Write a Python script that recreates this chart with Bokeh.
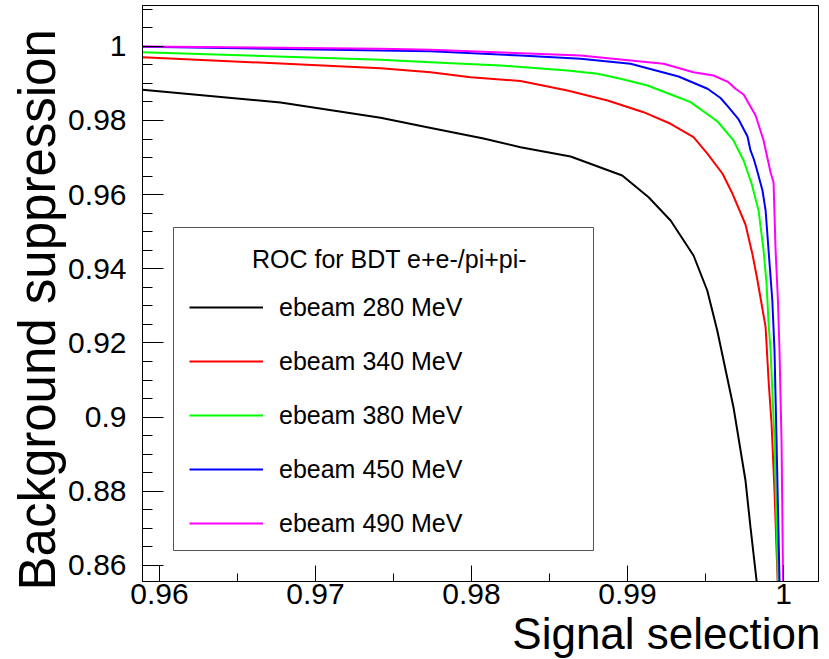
from bokeh.plotting import figure
from bokeh.models import Range1d, FixedTicker, Legend, LegendItem, Label, BoxAnnotation, Title
from bokeh.embed import file_html
from bokeh.resources import INLINE

# ---------------- data ----------------
series_labels = ["ebeam 280 MeV", "ebeam 340 MeV", "ebeam 380 MeV",
                 "ebeam 450 MeV", "ebeam 490 MeV"]
series_colors = ["#000000", "#ff0000", "#00ff00", "#0000ff", "#ff00ff"]

sig_280 = [0.95891, 0.96776, 0.97417, 0.97716, 0.98077, 0.98314, 0.98635, 0.98966,
           0.99135, 0.99276, 0.99423, 0.99511, 0.99575, 0.99679, 0.99756, 0.99788,
           0.99827, 0.99843]
bkg_280 = [0.98828, 0.98485, 0.98073, 0.97819, 0.97515, 0.97280, 0.97029, 0.96517,
           0.95931, 0.95303, 0.94359, 0.93415, 0.92337, 0.90268, 0.88291, 0.87032,
           0.85594, 0.85000]

sig_340 = [0.95891, 0.97417, 0.97737, 0.97994, 0.98314, 0.98615, 0.98872, 0.99103,
           0.99276, 0.99423, 0.99513, 0.99609, 0.99673, 0.99756, 0.99801, 0.99833,
           0.99885, 0.99904, 0.99923, 0.99942, 0.99962, 0.99967]
bkg_340 = [0.99707, 0.99410, 0.99303, 0.99168, 0.99065, 0.98809, 0.98539, 0.98224,
           0.97911, 0.97550, 0.97102, 0.96563, 0.96023, 0.95195, 0.94386, 0.93685,
           0.92426, 0.90988, 0.89829, 0.88022, 0.85594, 0.85000]

sig_380 = [0.95891, 0.97417, 0.97737, 0.98186, 0.98615, 0.98808, 0.98955, 0.99128,
           0.99295, 0.99404, 0.99577, 0.99679, 0.99744, 0.99795, 0.99840, 0.99872,
           0.99891, 0.99904, 0.99917, 0.99942, 0.99964, 0.99968]
bkg_380 = [0.99842, 0.99637, 0.99572, 0.99483, 0.99348, 0.99259, 0.99125, 0.98944,
           0.98674, 0.98494, 0.97973, 0.97461, 0.96921, 0.96301, 0.95573, 0.94494,
           0.93604, 0.92525, 0.91797, 0.89370, 0.85594, 0.85000]

sig_450 = [0.95891, 0.97417, 0.97737, 0.98314, 0.98699, 0.99019, 0.99327, 0.99513,
           0.99596, 0.99647, 0.99712, 0.99769, 0.99788, 0.99808, 0.99827, 0.99865,
           0.99885, 0.99904, 0.99928, 0.99942, 0.99955, 0.99974, 0.99978]
bkg_450 = [0.99990, 0.99888, 0.99869, 0.99753, 0.99664, 0.99529, 0.99187, 0.98855,
           0.98607, 0.98359, 0.98027, 0.97569, 0.97191, 0.96975, 0.96706, 0.96112,
           0.95573, 0.94494, 0.93146, 0.91797, 0.89370, 0.85594, 0.85000]

sig_490 = [0.95891, 0.97417, 0.97737, 0.98699, 0.98891, 0.99231, 0.99423, 0.99551,
           0.99647, 0.99692, 0.99744, 0.99821, 0.99872, 0.99917, 0.99936, 0.99949,
           0.99964, 0.99974, 0.99987, 0.99997, 1.00000]
bkg_490 = [0.99998, 0.99934, 0.99907, 0.99753, 0.99672, 0.99529, 0.99303, 0.99214,
           0.99033, 0.98855, 0.98701, 0.98135, 0.97461, 0.96598, 0.96328, 0.94494,
           0.93146, 0.91797, 0.89370, 0.85594, 0.85000]

x_ticks = [0.96, 0.97, 0.98, 0.99, 1.0]
x_tick_labels = ["0.96", "0.97", "0.98", "0.99", "1"]
x_minor_ticks = [0.955, 0.965, 0.975, 0.985, 0.995, 1.005]
y_ticks = [0.86, 0.88, 0.90, 0.92, 0.94, 0.96, 0.98, 1.0]
y_tick_labels = ["0.86", "0.88", "0.9", "0.92", "0.94", "0.96", "0.98", "1"]
y_minor_ticks = [0.855, 0.860, 0.865, 0.870, 0.875, 0.880, 0.885, 0.890, 0.895,
                 0.900, 0.905, 0.910, 0.915, 0.920, 0.925, 0.930, 0.935, 0.940,
                 0.945, 0.950, 0.955, 0.960, 0.965, 0.970, 0.975, 0.980, 0.985,
                 0.990, 0.995, 1.000, 1.005, 1.010]

x_title = "Signal selection"
y_title = "Background suppression"
legend_title = "ROC for BDT e+e-/pi+pi-"

# ---------------- figure ----------------
FONT = "Liberation Sans"

p = figure(width=828, height=659,
           x_range=Range1d(0.95891, 1.00224), y_range=Range1d(0.85567, 1.01101),
           output_backend="svg", toolbar_location=None,
           min_border_left=142, min_border_right=10,
           min_border_top=5, min_border_bottom=78)

p.xgrid.visible = False
p.ygrid.visible = False
p.background_fill_color = "white"
p.border_fill_color = "white"
p.outline_line_color = "black"
p.outline_line_width = 1
p.outline_line_alpha = 1.0

xs = [sig_280, sig_340, sig_380, sig_450, sig_490]
ys = [bkg_280, bkg_340, bkg_380, bkg_450, bkg_490]
renderers = []
for sx, sy, col in zip(xs, ys, series_colors):
    r = p.line(sx, sy, line_color=col, line_width=2)
    renderers.append(r)

# axes
xa = p.xaxis[0]
ya = p.yaxis[0]
xa.ticker = FixedTicker(ticks=x_ticks, minor_ticks=x_minor_ticks)
ya.ticker = FixedTicker(ticks=y_ticks, minor_ticks=y_minor_ticks)
xa.major_label_overrides = {t: s for t, s in zip(x_ticks, x_tick_labels)}
ya.major_label_overrides = {t: s for t, s in zip(y_ticks, y_tick_labels)}

for ax in (xa, ya):
    ax.axis_line_color = "black"
    ax.major_tick_line_color = "black"
    ax.minor_tick_line_color = "black"
    ax.major_tick_out = 0
    ax.minor_tick_out = 0
    ax.major_label_text_font = FONT
    ax.major_label_text_font_size = "30px"
    ax.major_label_text_color = "black"

xa.major_tick_in = 16
xa.minor_tick_in = 8
xa.major_label_standoff = 2
ya.major_tick_in = 21
ya.minor_tick_in = 10
ya.major_label_standoff = 16

# axis titles, ROOT style: aligned to the axis ends
p.add_layout(Title(text=x_title, align="right", text_font=FONT, text_font_size="44px",
                   text_font_style="normal", text_color="black", standoff=0, offset=-2,
                   text_line_height=0.8), "below")
p.add_layout(Title(text=y_title, align="left", text_font=FONT, text_font_size="51px",
                   text_font_style="normal", text_color="black", standoff=0, offset=-9),
             "left")

# legend: frame box, centred header, entries
p.add_layout(BoxAnnotation(left=31, right=451, bottom=31, top=354,
                           left_units="screen", right_units="screen",
                           bottom_units="screen", top_units="screen",
                           fill_color="white", fill_alpha=1.0,
                           line_color="#555555", line_width=1, line_alpha=1.0))
p.add_layout(Label(x=247, y=323, x_units="screen", y_units="screen",
                   text=legend_title, text_align="center", text_baseline="middle",
                   text_font=FONT, text_font_size="25px", text_color="black"))

items = [LegendItem(label=lab, renderers=[r]) for lab, r in zip(series_labels, renderers)]
legend = Legend(items=items, location=(33, 29),
                label_text_font=FONT, label_text_font_size="25px",
                label_text_color="black",
                glyph_width=74, glyph_height=30, label_height=30,
                label_standoff=16, spacing=24, padding=14, margin=0,
                border_line_alpha=0.0, background_fill_alpha=0.0)
p.add_layout(legend, "center")

open("out.html", "w").write(file_html(p, INLINE))
